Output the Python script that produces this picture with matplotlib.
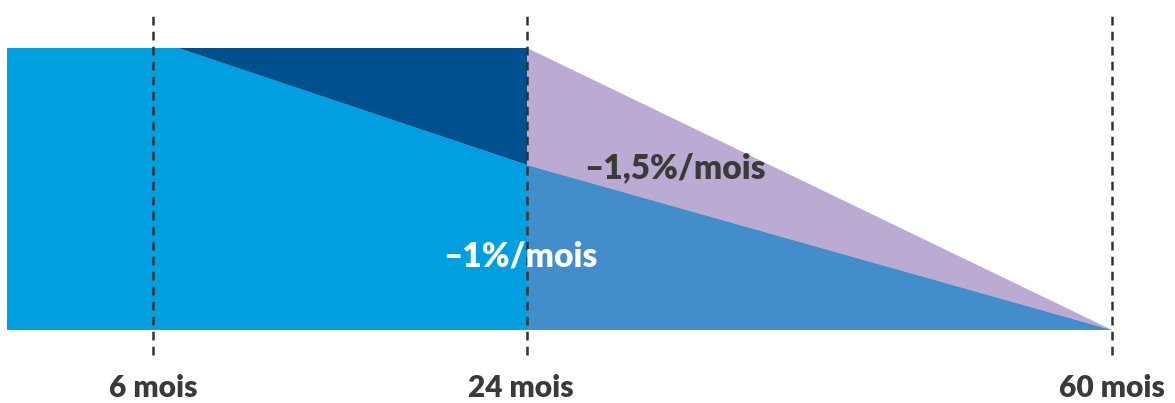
import numpy as np
import matplotlib
matplotlib.use('Agg')
import matplotlib.pyplot as plt

# durée en mois / part restante (%)
mois_repere = [6, 24, 60]
labels_repere = ['6 mois', '24 mois', '60 mois']

debut_degressif = 7.2      # début de la baisse -1%/mois
valeur_24 = 58.5           # niveau atteint à 24 mois

# zones (mois, valeur)
zone_claire_x = [0, debut_degressif, 24, 24, 0]
zone_claire_y = [100, 100, valeur_24, 0, 0]
zone_fonce_x = [debut_degressif, 24, 24]
zone_fonce_y = [100, 100, valeur_24]
zone_lavande_x = [24, 60, 24]
zone_lavande_y = [100, 0, valeur_24]
zone_moyen_x = [24, 60, 24]
zone_moyen_y = [valeur_24, 0, 0]

# échelle schématique (non linéaire) de l'axe des mois
knots_m = [-0.29, 0, 6, 24, 60, 63.9]
knots_p = [0, 7, 153, 527, 1112, 1175]

def fwd(x):
    return np.interp(x, knots_m, knots_p)

def inv(p):
    return np.interp(p, knots_p, knots_m)

fig = plt.figure(figsize=(11.75, 4.03), dpi=100)
ax = fig.add_axes([0, 0, 1, 1])
ax.set_xscale('function', functions=(fwd, inv))
ax.set_xlim(-0.29, 63.9)
ax.set_ylim(-25.9, 117)
ax.axis('off')

ax.fill(zone_claire_x, zone_claire_y, color='#009fe0', lw=0)
ax.fill(zone_fonce_x, zone_fonce_y, color='#004f8f', lw=0)
ax.fill(zone_lavande_x, zone_lavande_y, color='#bbaad2', lw=0)
ax.fill(zone_moyen_x, zone_moyen_y, color='#438dcb', lw=0)

for m, lab in zip(mois_repere, labels_repere):
    ax.plot([m, m], [-8.9, 112.8], color='#333333', lw=1.8,
            dashes=(3.5, 2.5), zorder=5)
    ax.text(m - (0.3 if m == 24 else 0), -20.6, lab, ha='center', va='center',
            fontsize=21.5, fontfamily='Lato', fontweight='heavy', color='#3a3a3a')

ax.text(23.7, 26.2, '–1%/mois', ha='center', va='center', fontsize=24,
        fontfamily='Lato', fontweight='heavy', color='white', zorder=6)
ax.text(33.1, 57.4, '–1,5%/mois', ha='center', va='center', fontsize=24,
        fontfamily='Lato', fontweight='heavy', color='#3a3a3a', zorder=6)

fig.savefig('out.png', dpi=100)
